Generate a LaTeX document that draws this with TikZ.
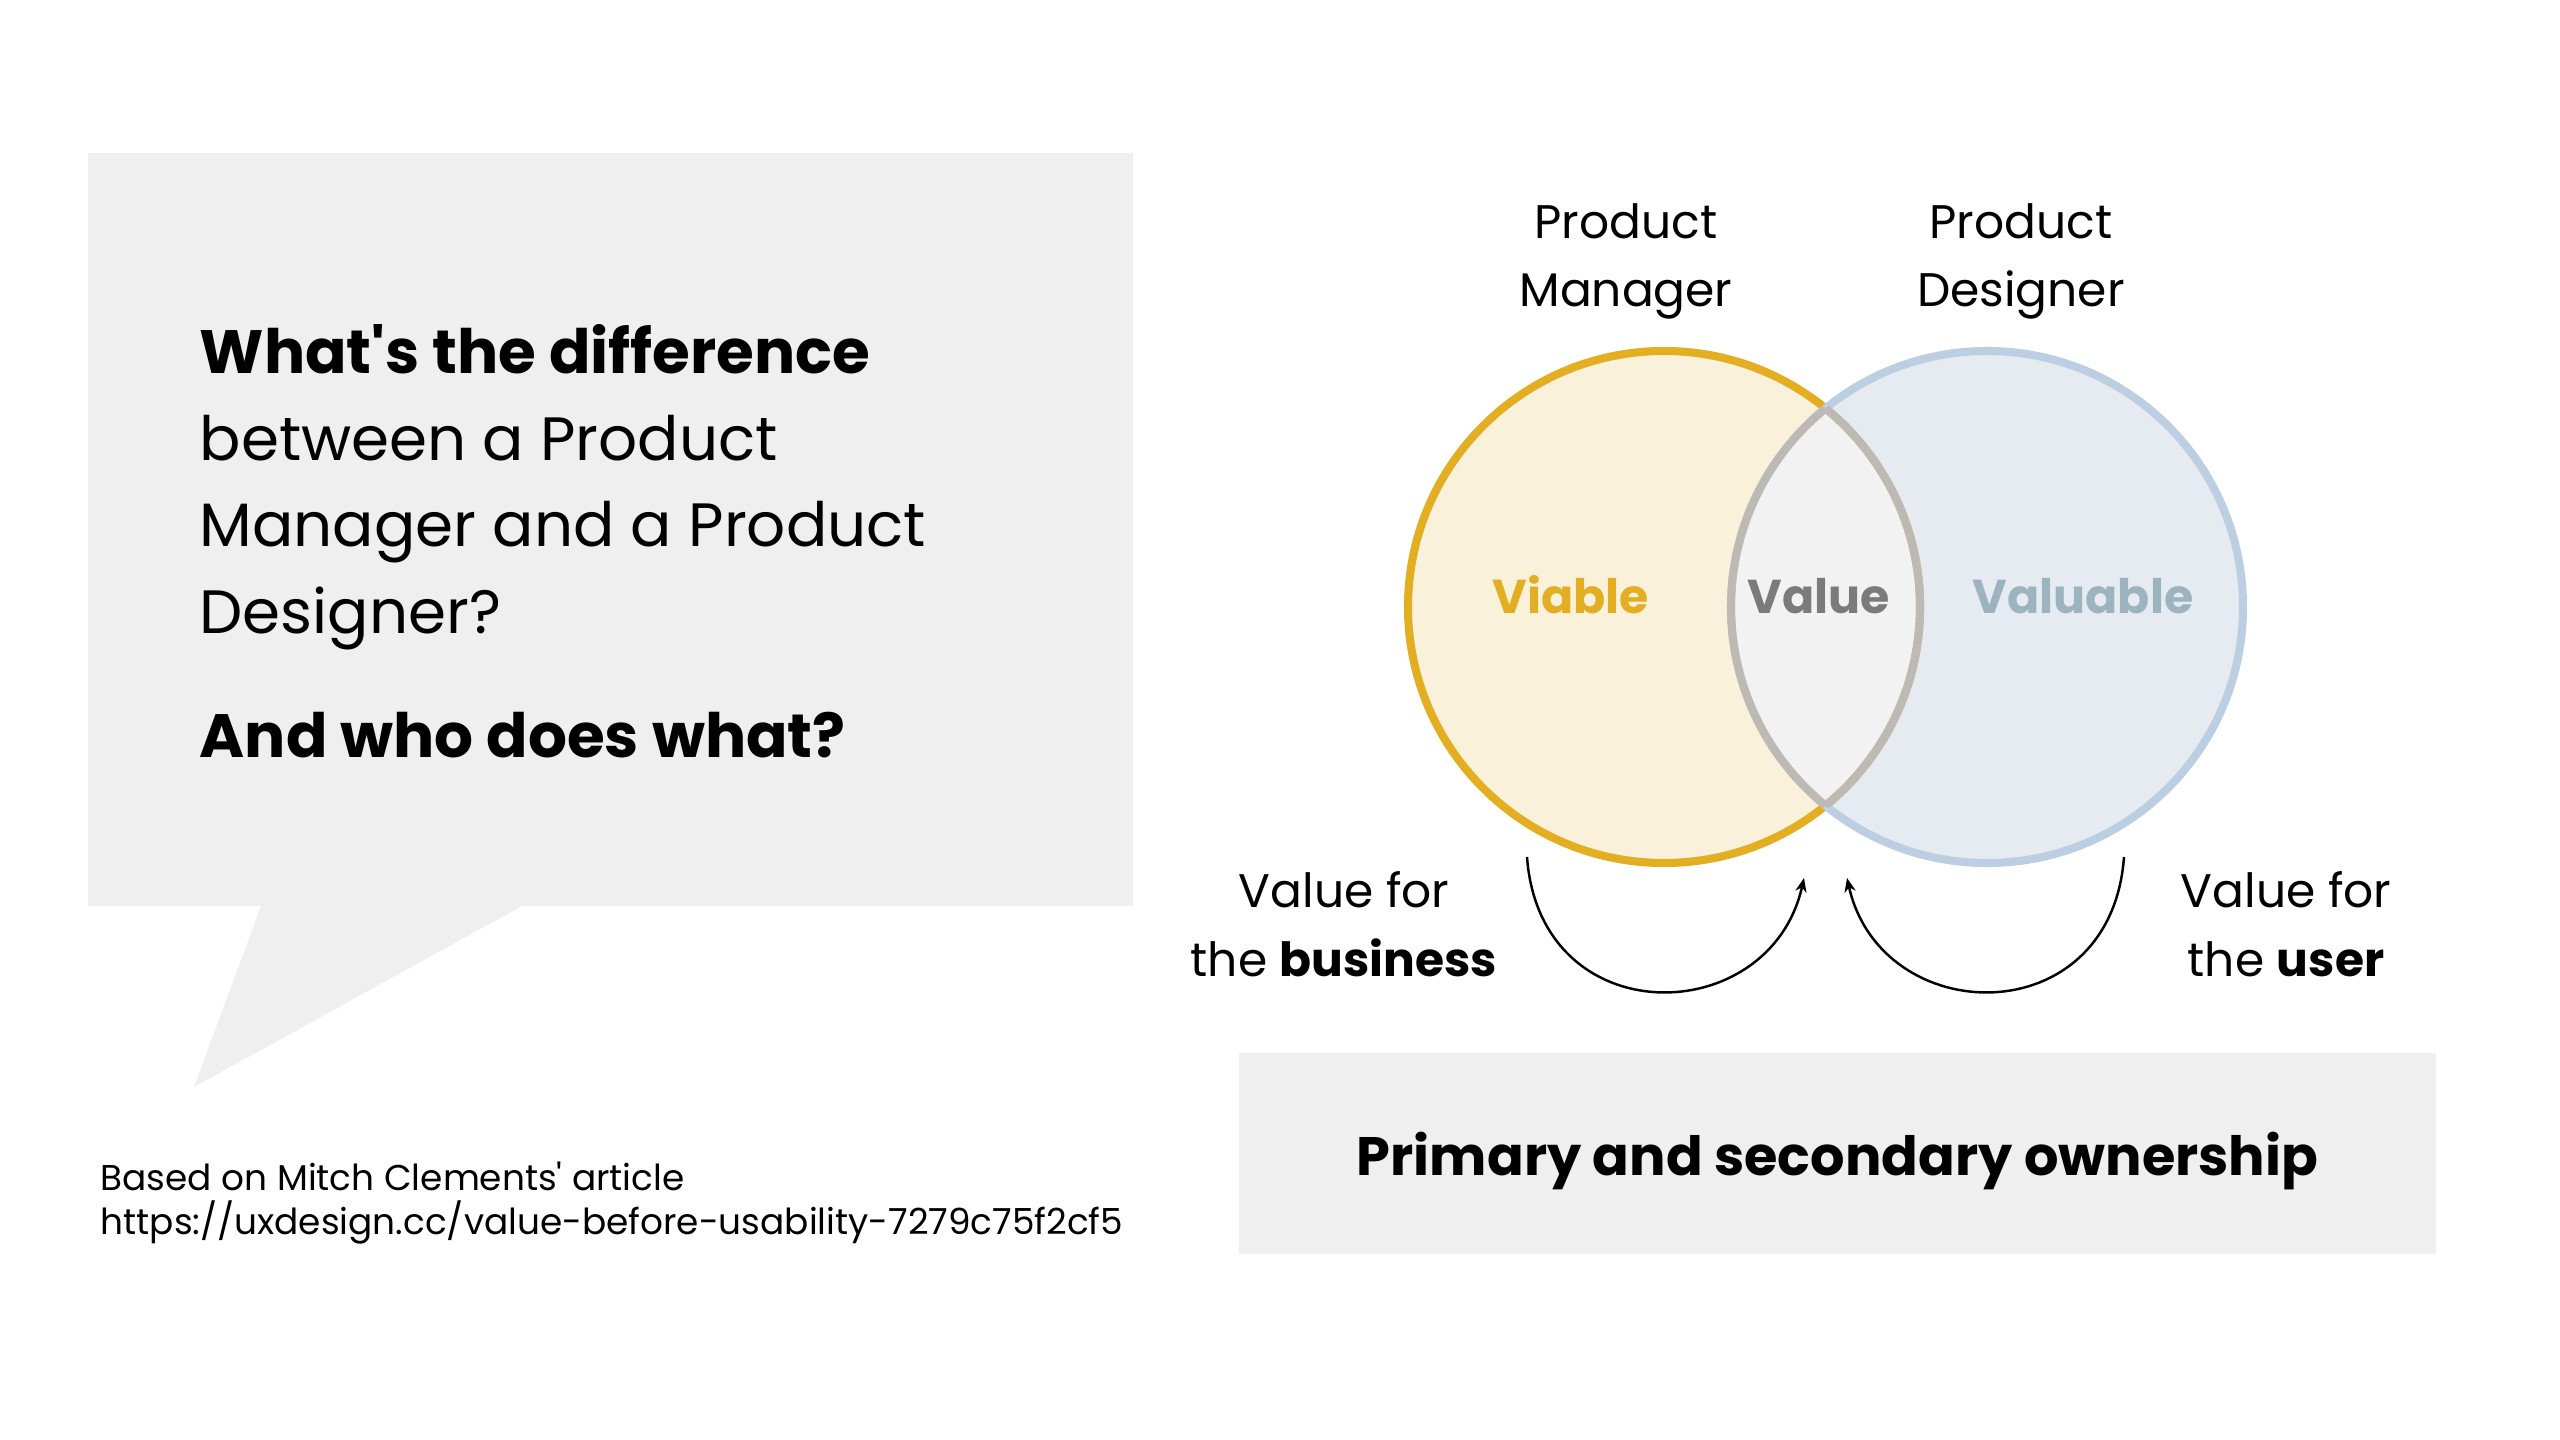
\documentclass[tikz,border=0pt]{standalone}
\usepackage{fontspec}
\setmainfont{Poppins}[Ligatures=TeXOff]
\usepackage{xcolor}
\usepackage{tikz}
\usetikzlibrary{arrows.meta,positioning,calc}
\definecolor{panel}{HTML}{EFEFEF}
\definecolor{viab}{HTML}{E3AE22}
\definecolor{viabF}{HTML}{FAF1DB}
\definecolor{valb}{HTML}{BCCFE2}
\definecolor{valbF}{HTML}{E5EBF0}
\definecolor{valbT}{HTML}{9DB4C0}
\definecolor{coreF}{HTML}{F2F2F2}
\definecolor{coreL}{HTML}{BDBAB6}
\definecolor{coreT}{HTML}{7B7B7B}
\newcommand{\fs}[2]{\fontsize{#1}{#2}\selectfont}
\tikzset{
  role/.style={align=center, inner sep=0pt, font=\fs{13.4}{19.6}},
  vtxt/.style={font=\fs{13.5}{18}\bfseries, text=#1, inner sep=0pt},
  ring/.style={draw=#1, line width=2.3pt},
  arr/.style={-{Stealth[length=4pt,width=3.2pt]}, line width=0.7pt},
}

\begin{document}
\begin{tikzpicture}[x=0.01cm, y=-0.01cm]
    \useasboundingbox (0,0) rectangle (2560,1440);
    % Bulle de question
    \fill[panel] (88,153) -- (1133,153) -- (1133,906) -- (522,906) -- (194,1087)
      -- (261,906) -- (88,906) -- cycle;
    \node[anchor=base west, align=left, inner sep=0pt, font=\fs{17.4}{24.6}] (quest) at (199,758)
      {\textbf{What's the difference}\\between a Product\\Manager and a Product\\Designer?\\[10.9pt]%
       \textbf{And who does what?}};
    \node[anchor=base west, align=left, inner sep=0pt, font=\fs{10.2}{12.5}] (src) at (100,1234)
      {Based on Mitch Clements' article\\https://uxdesign.cc/value-before-usability-7279c75f2cf5};
    % Venn
    \coordinate (cL) at (1664,607);
    \coordinate (cR) at (1987,607);
    \fill[viabF] (cL) circle[radius=256];
    \fill[valbF] (cR) circle[radius=256];
    \begin{scope}
      \clip (cL) circle[radius=256];
      \fill[coreF] (cR) circle[radius=256];
    \end{scope}
    \draw[ring=viab] (cL) circle[radius=256];
    \draw[ring=valb] (cR) circle[radius=256];
    \begin{scope}
      \clip (cL) circle[radius=256];
      \draw[ring=coreL] (cR) circle[radius=256];
    \end{scope}
    \begin{scope}
      \clip (cR) circle[radius=256];
      \draw[ring=coreL] (cL) circle[radius=256];
    \end{scope}
    \node[vtxt=viab, anchor=base] (viable) at (1571,614) {Viable};
    \node[vtxt=coreT, anchor=base] (value) at (1819,614) {Value};
    \node[vtxt=valbT, anchor=base] (valuable) at (2083,614) {Valuable};
    % Rôles
    \node[role, anchor=base] (pm) at (1626,307) {Product\\Manager};
    \node[role, anchor=base] (pd) at (2021,307) {Product\\Designer};
    % Flèches
    \coordinate (bizS) at (1527,857); \coordinate (bizE) at (1804,878);
    \coordinate (usrS) at (2124,857); \coordinate (usrE) at (1847,878);
    \draw[arr] (bizS) .. controls +(13,178) and +(-34,152) .. (bizE);
    \draw[arr] (usrS) .. controls +(-13,178) and +(34,152) .. (usrE);
    \node[role, anchor=base] (biz) at (1344,976) {Value for\\the \textbf{business}};
    \node[role, anchor=base] (usr) at (2286,976) {Value for\\the \textbf{user}};
    % Propriété
    \node[fill=panel, minimum width=11.97cm, minimum height=2.01cm, inner sep=0pt, text depth=0pt,
          font=\fs{15.4}{20}\bfseries] (own) at (1837.5,1153.5) {Primary and secondary ownership};
\end{tikzpicture}
\end{document}
